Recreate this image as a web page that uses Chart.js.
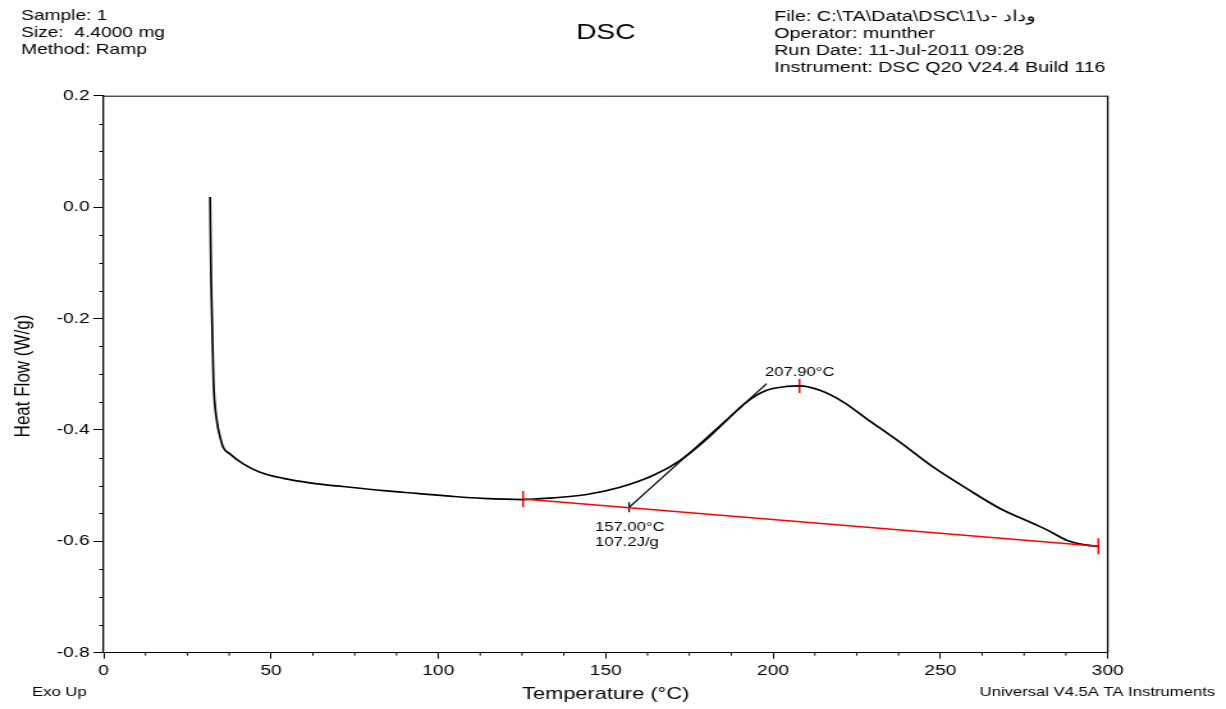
<!DOCTYPE html>
<html lang="en">
	<head>
		<meta charset="UTF-8" />
		<title>DSC</title>
		<script src="https://cdn.jsdelivr.net/npm/chart.js"></script>
		<style>
			html, body { margin: 0; padding: 0; background: #fff; overflow: hidden; }
			/* the original instrument plot is stretched sideways, so draw narrow and stretch */
			#myChart { display: block; transform-origin: 0 0; transform: scale(1.2797, 1); }
		</style>
	</head>

	<body>
		<canvas id="myChart" width="958" height="709"></canvas>
	</body>
	<script>
		// DSC trace
		const tempC = [31.8, 32.1, 32.8, 33.8, 34.8, 35.7, 37.7, 41.7, 46.7, 53.7, 61.6, 73.6, 83.5, 93.5, 103.5, 113.3, 125.4, 134.2, 144.3, 154.3, 164.1, 172.2, 179.1, 186.1, 192.1, 198.1, 204.1, 208.0, 214.0, 221.0, 228.0, 237.9, 247.9, 257.8, 267.8, 277.7, 281.7, 287.7, 292.7, 297.2];
		const heatFlow = [0.018, -0.131, -0.311, -0.383, -0.413, -0.431, -0.443, -0.461, -0.476, -0.487, -0.495, -0.503, -0.509, -0.514, -0.519, -0.523, -0.525, -0.522, -0.516, -0.503, -0.482, -0.455, -0.422, -0.383, -0.35, -0.329, -0.322, -0.321, -0.329, -0.35, -0.38, -0.422, -0.467, -0.505, -0.541, -0.568, -0.579, -0.598, -0.606, -0.609];

		// integration baseline and onset tangent
		const baseX = [125.3, 297.2];
		const baseY = [-0.524, -0.609];
		const tanX = [157.0, 198.1];
		const tanY = [-0.539, -0.317];
		const peakX = 207.9;
		const peakY = -0.321;

		// axis ticks
		const xMajor = 50, xMinor = 12.5, xMin = 0, xMax = 300;
		const yMajor = 0.2, yMinor = 0.05, yMin = -0.8, yMax = 0.2;

		// annotation text, anchored in data units
		const notes = [
			{ x: 197.6, y: -0.3037, text: "207.90°C" },
			{ x: 146.8, y: -0.5822, text: "157.00°C" },
			{ x: 146.8, y: -0.6085, text: "107.2J/g" },
		];

		const headerLeft = ["Sample: 1", "Size:  4.4000 mg", "Method: Ramp"];
		const headerRight = [
			"File: C:\\TA\\Data\\DSC\\1\\وداد -د",
			"Operator: munther",
			"Run Date: 11-Jul-2011 09:28",
			"Instrument: DSC Q20 V24.4 Build 116",
		];

		const FONT = "'Liberation Sans', Arial, sans-serif";
		const pts = (xs, ys) => xs.map((x, i) => ({ x: x, y: ys[i] }));

		const textPlugin = {
			id: "dscText",
			afterDraw(chart) {
				const ctx = chart.ctx;
				const a = chart.chartArea;
				const sx = chart.scales.x;
				const sy = chart.scales.y;
				ctx.save();

				// frame (top and right; left/bottom are the axis borders)
				ctx.strokeStyle = "#000";
				ctx.lineWidth = 1;
				ctx.beginPath();
				ctx.moveTo(a.left, a.top + 0.5);
				ctx.lineTo(a.right, a.top + 0.5);
				ctx.stroke();
				ctx.lineWidth = 1.3;
				ctx.beginPath();
				ctx.moveTo(a.right, a.top);
				ctx.lineTo(a.right, a.bottom);
				ctx.stroke();

				// minor ticks
				ctx.lineWidth = 1;
				ctx.beginPath();
				for (let v = xMin; v <= xMax + 1e-9; v += xMinor) {
					if (Math.abs(v / xMajor - Math.round(v / xMajor)) < 1e-6) continue;
					const px = sx.getPixelForValue(v);
					ctx.moveTo(px, a.bottom);
					ctx.lineTo(px, a.bottom + 3);
				}
				for (let v = yMin; v <= yMax + 1e-9; v += yMinor) {
					if (Math.abs(v / yMajor - Math.round(v / yMajor)) < 1e-6) continue;
					const py = Math.round(sy.getPixelForValue(v)) + 0.5;
					ctx.moveTo(a.left, py);
					ctx.lineTo(a.left - 3.5, py);
				}
				ctx.stroke();

				ctx.fillStyle = "#000";
				ctx.textBaseline = "alphabetic";

				// header
				ctx.font = "15px " + FONT;
				ctx.textAlign = "left";
				headerLeft.forEach((t, i) => ctx.fillText(t, 16.4, 20 + i * 16.8));
				ctx.font = "15.4px " + FONT;
				headerRight.forEach((t, i) => ctx.fillText(t, 605, 20.5 + i * 17));
				ctx.font = "22px " + FONT;
				ctx.textAlign = "center";
				ctx.fillText("DSC", 473.4, 39);

				// axis titles
				ctx.font = "17px " + FONT;
				ctx.fillText("Temperature (°C)", (a.left + a.right) / 2, 699);
				ctx.save();
				ctx.translate(23, 376);
				ctx.rotate(-Math.PI / 2);
				ctx.fillText("Heat Flow (W/g)", 0, 0);
				ctx.restore();

				ctx.font = "13px " + FONT;
				ctx.textAlign = "left";
				ctx.fillText("Exo Up", 25, 696);
				ctx.textAlign = "right";
				ctx.fillText("Universal V4.5A TA Instruments", 949.5, 696);

				// peak / onset labels
				ctx.textAlign = "left";
				notes.forEach((n) => ctx.fillText(n.text, sx.getPixelForValue(n.x), sy.getPixelForValue(n.y)));

				ctx.restore();
			},
		};

		const ctx = document.getElementById("myChart");
		const myChart = new Chart(ctx, {
			type: "scatter",
			data: {
				datasets: [
					{
						data: pts(baseX, baseY),
						showLine: true,
						borderColor: "#ff0000",
						borderWidth: 1.5,
						pointRadius: 0,
					},
					{
						data: pts(tempC, heatFlow),
						showLine: true,
						borderColor: "#000",
						borderWidth: 1.7,
						pointRadius: 0,
						cubicInterpolationMode: "monotone",
					},
					{
						data: pts(tanX, tanY),
						showLine: true,
						borderColor: "#000",
						borderWidth: 1.3,
						pointRadius: 0,
					},
					{
						// red limit / peak marks
						data: pts(baseX.concat([peakX]), baseY.concat([peakY])),
						showLine: false,
						pointStyle: "line",
						rotation: 90,
						pointRadius: [8, 8, 7],
						borderColor: "#ff0000",
						borderWidth: 1.5,
					},
					{
						// onset mark
						data: pts([tanX[0]], [tanY[0]]),
						showLine: false,
						pointStyle: "line",
						rotation: 90,
						pointRadius: 5,
						borderColor: "#000",
						borderWidth: 1.2,
					},
				],
			},
			options: {
				responsive: false,
				animation: false,
				events: [],
				layout: { padding: { top: 95.7, right: 92.4, left: 0, bottom: 0 } },
				plugins: { legend: { display: false }, tooltip: { enabled: false } },
				scales: {
					x: {
						type: "linear",
						min: xMin,
						max: xMax,
						afterFit: (s) => { s.height = 56.3; },
						border: { display: true, color: "#000", width: 1 },
						grid: { drawOnChartArea: false, drawTicks: true, tickLength: 6, color: "#000" },
						ticks: {
							stepSize: xMajor,
							padding: 3,
							color: "#000",
							font: { family: FONT, size: 15 },
							maxRotation: 0,
						},
					},
					y: {
						type: "linear",
						min: yMin,
						max: yMax,
						afterFit: (s) => { s.width = 81; },
						border: { display: true, color: "#000", width: 1.3 },
						grid: { drawOnChartArea: false, drawTicks: true, tickLength: 8, color: "#000" },
						ticks: {
							stepSize: yMajor,
							padding: 3,
							color: "#000",
							font: { family: FONT, size: 15 },
							callback: (v) => (Math.abs(v) < 1e-9 ? "0.0" : Number(v).toFixed(1)),
						},
					},
				},
			},
			plugins: [textPlugin],
		});
	</script>
</html>
